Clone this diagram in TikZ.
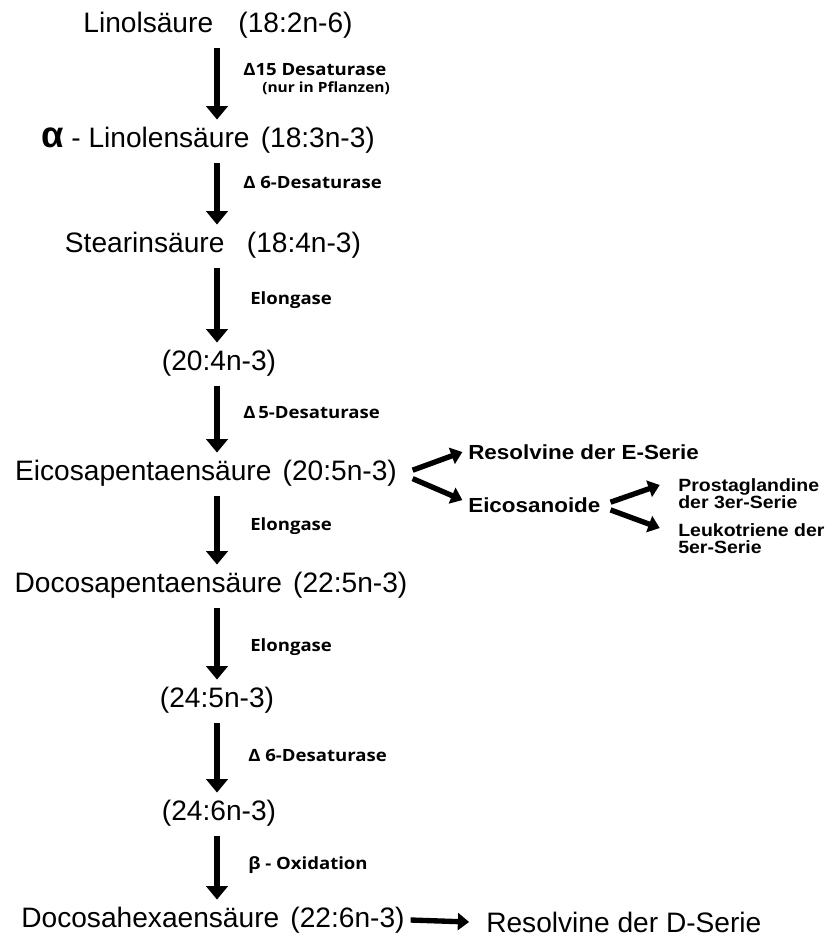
\documentclass[tikz,border=0pt]{standalone}
\usepackage{fontspec}
\setmainfont{Liberation Sans}
\newfontfamily\labelfont[FakeStretch=1.1]{Open Sans}
\newfontfamily\branchfont[FakeStretch=1.1]{Liberation Sans}
\usetikzlibrary{arrows.meta, positioning}

\begin{document}
\begin{tikzpicture}[x=0.025cm, y=-0.025cm,
    acid/.style={inner sep=0pt, font=\fontsize{20}{22}\selectfont},
    enzyme/.style={anchor=west, inner sep=0pt, font=\labelfont\bfseries\fontsize{12}{14}\selectfont},
    product/.style={anchor=west, inner sep=0pt, align=left, font=\branchfont\bfseries\fontsize{14.5}{14}\selectfont},
    subproduct/.style={product, font=\branchfont\bfseries\fontsize{12.6}{12}\selectfont},
    flow/.style={-{Triangle[width=15pt, length=9.5pt]}, line width=4.2pt, shorten <=7pt, shorten >=5pt},
    branch/.style={-{Triangle[width=12pt, length=8pt]}, line width=3.8pt}
]
\useasboundingbox (0,0) rectangle (834,937);
\coordinate (axis) at (217,0);

% Acids
\node[acid] (linol) at (218,25) {Linolsäure\hspace{0.9em}(18:2n-6)};
\node[acid] (alin) at (208,140) {{\bfseries\fontsize{26}{26}\selectfont α} - Linolensäure\hspace{0.4em}(18:3n-3)};
\node[acid] (stear) at (213,245) {Stearinsäure\hspace{0.8em}(18:4n-3)};
\node[acid] (c204) at (219,363) {(20:4n-3)};
\node[acid] (epa) at (206,473) {Eicosapentaensäure\hspace{0.4em}(20:5n-3)};
\node[acid] (dpa) at (211,585) {Docosapentaensäure\hspace{0.4em}(22:5n-3)};
\node[acid] (c245) at (217,700) {(24:5n-3)};
\node[acid] (c246) at (219,813) {(24:6n-3)};
\node[acid] (dha) at (213,920) {Docosahexaensäure\hspace{0.4em}(22:6n-3)};

% Enzymes
\node[enzyme] (d15) at (243,70) {Δ15 Desaturase};
\node[enzyme, font=\labelfont\bfseries\fontsize{10}{12}\selectfont] (pflanz) at (262,88) {(nur in Pflanzen)};
\node[enzyme] (d6a) at (243,182) {Δ 6-Desaturase};
\node[enzyme] (elo1) at (250,300) {Elongase};
\node[enzyme] (d5) at (243,413) {Δ\,5-Desaturase};
\node[enzyme] (elo2) at (250,526) {Elongase};
\node[enzyme] (elo3) at (250,647) {Elongase};
\node[enzyme] (d6b) at (248,755) {Δ 6-Desaturase};
\node[enzyme] (boxi) at (248,865) {β - Oxidation};

% Products
\node[product] (resE) at (468,452) {Resolvine der E-Serie};
\node[product] (eico) at (468,505) {Eicosanoide};
\node[subproduct] (prost) at (678,494) {Prostaglandine\\der 3er-Serie};
\node[subproduct] (leuko) at (678,539) {Leukotriene der\\5er-Serie};
\node[acid, anchor=west] (resD) at (486,922) {Resolvine der D-Serie};

% Main chain
\draw[flow] (linol.south -| axis) -- (alin.north -| axis);
\draw[flow] (alin.south -| axis) -- (stear.north -| axis);
\draw[flow] (stear.south -| axis) -- (c204.north -| axis);
\draw[flow] (c204.south -| axis) -- (epa.north -| axis);
\draw[flow] (epa.south -| axis) -- (dpa.north -| axis);
\draw[flow] (dpa.south -| axis) -- (c245.north -| axis);
\draw[flow] (c245.south -| axis) -- (c246.north -| axis);
\draw[flow] (c246.south -| axis) -- (dha.north -| axis);

% Side branches
\draw[branch] ([xshift=11pt, yshift=2pt]epa.east) -- ([xshift=-4pt]resE.west);
\draw[branch] ([xshift=11pt, yshift=-4pt]epa.east) -- ([xshift=-4pt, yshift=3.5pt]eico.west);
\draw[branch] ([xshift=7pt, yshift=2pt]eico.east) -- ([xshift=-13pt, yshift=6.4pt]prost.west);
\draw[branch] ([xshift=7pt, yshift=-3.5pt]eico.east) -- ([xshift=-13pt, yshift=7.8pt]leuko.west);
\draw[branch] ([xshift=4pt]dha.east) -- ([xshift=-12pt]resD.west);

\end{tikzpicture}
\end{document}
